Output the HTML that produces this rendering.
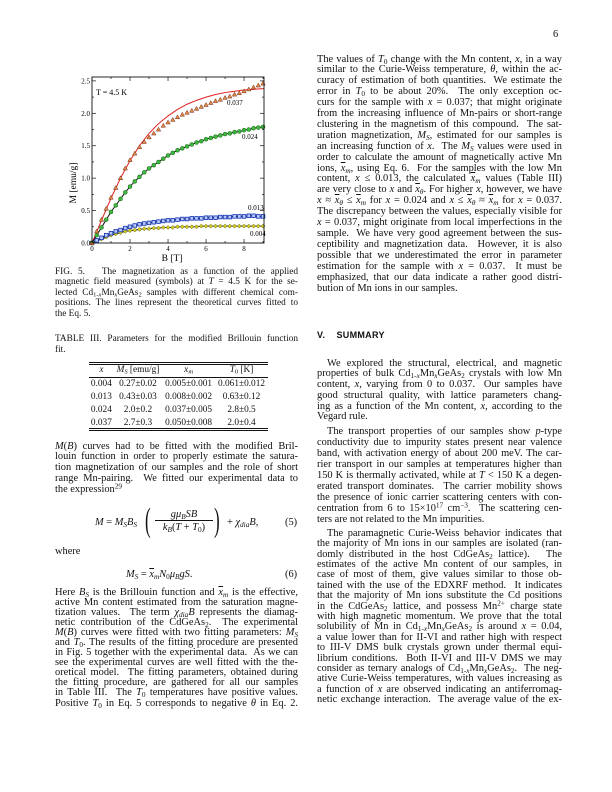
<!DOCTYPE html>
<html><head><meta charset="utf-8">
<style>
body{margin:0;background:#fff;}
#page{position:relative;width:612px;height:792px;overflow:hidden;background:#fff;font-family:"Liberation Serif",serif;color:#111;}
.p{position:absolute;font-size:10.4px;}
.p span{display:block;text-align:justify;text-align-last:justify;white-space:nowrap;}
.p span.l{text-align-last:left;}
.p span.i{text-indent:10px;}
.cap{font-size:9.3px;}
sub,sup{font-size:70%;line-height:0;}
sub{vertical-align:-0.25em;}sup{vertical-align:0.45em;}
i{font-style:italic;}
.ov{text-decoration:overline;}
table{border-collapse:collapse;}
</style></head>
<body><div id="page">

<div class="p" style="left:553px;top:29px;">6</div>

<svg id="chart" style="position:absolute;left:0;top:0" width="310" height="270"></svg>

<div class="p cap" style="left:55px;top:266.8px;width:243px;line-height:10.5px">
<span>FIG. 5.&nbsp;&nbsp; The magnetization as a function of the applied</span>
<span>magnetic field measured (symbols) at <i>T</i> = 4.5 K for the se-</span>
<span>lected Cd<sub>1-<i>x</i></sub>Mn<sub><i>x</i></sub>GeAs<sub>2</sub> samples with different chemical com-</span>
<span>positions. The lines represent the theoretical curves fitted to</span>
<span class="l">the Eq. 5.</span>
</div>

<div class="p cap" style="left:55px;top:333.5px;width:243px;line-height:11px">
<span>TABLE III. Parameters for the modified Brillouin function</span>
<span class="l">fit.</span>
</div>

<div style="position:absolute;left:89px;top:362px;width:179px;border-top:1px solid #111;border-bottom:1px solid #111;height:1px"></div>
<table style="position:absolute;left:89px;top:364px;width:179px;font-size:9.3px;line-height:10.9px;text-align:center">
<tr style="border-bottom:0.8px solid #111"><td><i>x</i></td><td><i>M<sub>S</sub></i> [emu/g]</td><td><i class="ov">x</i><sub><i>m</i></sub></td><td><i>T</i><sub>0</sub> [K]</td></tr>
<tr><td>0.004</td><td>0.27±0.02</td><td>0.005±0.001</td><td>0.061±0.012</td></tr>
<tr><td>0.013</td><td>0.43±0.03</td><td>0.008±0.002</td><td>0.63±0.12</td></tr>
<tr><td>0.024</td><td>2.0±0.2</td><td>0.037±0.005</td><td>2.8±0.5</td></tr>
<tr><td>0.037</td><td>2.7±0.3</td><td>0.050±0.008</td><td>2.0±0.4</td></tr>
</table>
<div style="position:absolute;left:89px;top:428px;width:179px;border-top:1px solid #111;border-bottom:1px solid #111;height:1px"></div>

<div class="p" style="left:55px;top:441.6px;width:243px;line-height:10.75px">
<span><i>M</i>(<i>B</i>) curves had to be fitted with the modified Bril-</span>
<span>louin function in order to properly estimate the satura-</span>
<span>tion magnetization of our samples and the role of short</span>
<span>range Mn-pairing.&nbsp; We fitted our experimental data to</span>
<span class="l">the expression<sup>29</sup></span>
</div>

<div class="p" style="left:95px;top:506px;width:205px;height:34px">
<div style="position:absolute;left:0;top:11px;white-space:nowrap"><i>M</i> = <i>M<sub>S</sub>B<sub>S</sub></i></div>
<div style="position:absolute;left:50px;top:-2px;font-size:34px;line-height:34px;transform:scaleX(0.5);transform-origin:left">(</div>
<div style="position:absolute;left:60px;top:3px;width:58px;text-align:center;border-bottom:0.8px solid #111;line-height:11px"><i>gμ<sub>B</sub>SB</i></div>
<div style="position:absolute;left:60px;top:16px;width:58px;text-align:center;line-height:11px"><i>k<sub>B</sub></i>(<i>T</i> + <i>T</i><sub>0</sub>)</div>
<div style="position:absolute;left:119px;top:-2px;font-size:34px;line-height:34px;transform:scaleX(0.5);transform-origin:left">)</div>
<div style="position:absolute;left:132px;top:11px;white-space:nowrap">+ <i>χ<sub>dia</sub>B</i>,</div>
<div style="position:absolute;left:190px;top:11px">(5)</div>
</div>

<div class="p" style="left:55px;top:546px">where</div>

<div class="p" style="left:126px;top:569px;width:174px">
<div style="position:absolute;left:0;top:0;white-space:nowrap"><i>M<sub>S</sub></i> = <i class="ov">x</i><sub><i>m</i></sub><i>N</i><sub>0</sub><i>μ<sub>B</sub>gS</i>.</div>
<div style="position:absolute;left:159px;top:0">(6)</div>
</div>

<div class="p" style="left:55px;top:587.5px;width:243px;line-height:10.1px">
<span>Here <i>B<sub>S</sub></i> is the Brillouin function and <i class="ov">x</i><sub><i>m</i></sub> is the effective,</span>
<span>active Mn content estimated from the saturation magne-</span>
<span>tization values.&nbsp; The term <i>χ<sub>dia</sub>B</i> represents the diamag-</span>
<span>netic contribution of the CdGeAs<sub>2</sub>.&nbsp; The experimental</span>
<span><i>M</i>(<i>B</i>) curves were fitted with two fitting parameters: <i>M<sub>S</sub></i></span>
<span>and <i>T</i><sub>0</sub>. The results of the fitting procedure are presented</span>
<span>in Fig. 5 together with the experimental data.&nbsp; As we can</span>
<span>see the experimental curves are well fitted with the the-</span>
<span>oretical model.&nbsp; The fitting parameters, obtained during</span>
<span>the fitting procedure, are gathered for all our samples</span>
<span>in Table III.&nbsp; The <i>T</i><sub>0</sub> temperatures have positive values.</span>
<span>Positive <i>T</i><sub>0</sub> in Eq. 5 corresponds to negative <i>θ</i> in Eq. 2.</span>
</div>

<div class="p" style="left:317px;top:54.5px;width:245px;line-height:10.9px">
<span>The values of <i>T</i><sub>0</sub> change with the Mn content, <i>x</i>, in a way</span>
<span>similar to the Curie-Weiss temperature, <i>θ</i>, within the ac-</span>
<span>curacy of estimation of both quantities.&nbsp; We estimate the</span>
<span>error in <i>T</i><sub>0</sub> to be about 20%.&nbsp; The only exception oc-</span>
<span>curs for the sample with <i>x</i> = 0.037; that might originate</span>
<span>from the increasing influence of Mn-pairs or short-range</span>
<span>clustering in the magnetism of this compound.&nbsp; The sat-</span>
<span>uration magnetization, <i>M<sub>S</sub></i>, estimated for our samples is</span>
<span>an increasing function of <i>x</i>.&nbsp; The <i>M<sub>S</sub></i> values were used in</span>
<span>order to calculate the amount of magnetically active Mn</span>
<span>ions, <i class="ov">x</i><sub><i>m</i></sub>, using Eq. 6.&nbsp; For the samples with the low Mn</span>
<span>content, <i>x</i> ≤ 0.013, the calculated <i class="ov">x</i><sub><i>m</i></sub> values (Table III)</span>
<span>are very close to <i>x</i> and <i class="ov">x</i><sub><i>θ</i></sub>. For higher <i>x</i>, however, we have</span>
<span><i>x</i> ≈ <i class="ov">x</i><sub><i>θ</i></sub> ≤ <i class="ov">x</i><sub><i>m</i></sub> for <i>x</i> = 0.024 and <i>x</i> ≤ <i class="ov">x</i><sub><i>θ</i></sub> ≈ <i class="ov">x</i><sub><i>m</i></sub> for <i>x</i> = 0.037.</span>
<span>The discrepancy between the values, especially visible for</span>
<span><i>x</i> = 0.037, might originate from local imperfections in the</span>
<span>sample.&nbsp; We have very good agreement between the sus-</span>
<span>ceptibility and magnetization data.&nbsp; However, it is also</span>
<span>possible that we underestimated the error in parameter</span>
<span>estimation for the sample with <i>x</i> = 0.037.&nbsp; It must be</span>
<span>emphasized, that our data indicate a rather good distri-</span>
<span class="l">bution of Mn ions in our samples.</span>
</div>

<div style="position:absolute;left:317px;top:330px;font-family:'Liberation Sans',sans-serif;font-weight:bold;font-size:9px;letter-spacing:0.3px">V.&nbsp;&nbsp;&nbsp; SUMMARY</div>

<div class="p" style="left:317px;top:358.6px;width:245px;line-height:10.75px">
<span class="i">We explored the structural, electrical, and magnetic</span>
<span>properties of bulk Cd<sub>1-<i>x</i></sub>Mn<sub><i>x</i></sub>GeAs<sub>2</sub> crystals with low Mn</span>
<span>content, <i>x</i>, varying from 0 to 0.037.&nbsp; Our samples have</span>
<span>good structural quality, with lattice parameters chang-</span>
<span>ing as a function of the Mn content, <i>x</i>, according to the</span>
<span class="l">Vegard rule.</span>
</div>

<div class="p" style="left:317px;top:425.5px;width:245px;line-height:11px">
<span class="i">The transport properties of our samples show <i>p</i>-type</span>
<span>conductivity due to impurity states present near valence</span>
<span>band, with activation energy of about 200 meV. The car-</span>
<span>rier transport in our samples at temperatures higher than</span>
<span>150 K is thermally activated, while at <i>T</i> &lt; 150 K a degen-</span>
<span>erated transport dominates.&nbsp; The carrier mobility shows</span>
<span>the presence of ionic carrier scattering centers with con-</span>
<span>centration from 6 to 15×10<sup>17</sup> cm<sup>−3</sup>.&nbsp; The scattering cen-</span>
<span class="l">ters are not related to the Mn impurities.</span>
</div>

<div class="p" style="left:317px;top:528.8px;width:245px;line-height:10.4px">
<span class="i">The paramagnetic Curie-Weiss behavior indicates that</span>
<span>the majority of Mn ions in our samples are isolated (ran-</span>
<span>domly distributed in the host CdGeAs<sub>2</sub> lattice).&nbsp;&nbsp; The</span>
<span>estimates of the active Mn content of our samples, in</span>
<span>case of most of them, give values similar to those ob-</span>
<span>tained with the use of the EDXRF method.&nbsp; It indicates</span>
<span>that the majority of Mn ions substitute the Cd positions</span>
<span>in the CdGeAs<sub>2</sub> lattice, and possess Mn<sup>2+</sup> charge state</span>
<span>with high magnetic momentum. We prove that the total</span>
<span>solubility of Mn in Cd<sub>1-<i>x</i></sub>Mn<sub><i>x</i></sub>GeAs<sub>2</sub> is around <i>x</i> = 0.04,</span>
<span>a value lower than for II-VI and rather high with respect</span>
<span>to III-V DMS bulk crystals grown under thermal equi-</span>
<span>librium conditions.&nbsp; Both II-VI and III-V DMS we may</span>
<span>consider as ternary analogs of Cd<sub>1-<i>x</i></sub>Mn<sub><i>x</i></sub>GeAs<sub>2</sub>.&nbsp; The neg-</span>
<span>ative Curie-Weiss temperatures, with values increasing as</span>
<span>a function of <i>x</i> are observed indicating an antiferromag-</span>
<span>netic exchange interaction.&nbsp; The average value of the ex-</span>
</div>

<script>
// ---- chart data ----
const fieldB = [0,0.25,0.5,0.75,1,1.25,1.5,1.75,2,2.25,2.5,2.75,3,3.25,3.5,3.75,4,4.25,4.5,4.75,5,5.25,5.5,5.75,6,6.25,6.5,6.75,7,7.25,7.5,7.75,8,8.25,8.5,8.75,9];
const m037 = [0,0.18,0.36,0.53,0.70,0.85,1.0,1.15,1.28,1.38,1.48,1.56,1.63,1.69,1.75,1.81,1.86,1.9,1.94,1.98,2.01,2.04,2.07,2.1,2.13,2.16,2.19,2.21,2.24,2.26,2.29,2.31,2.34,2.37,2.4,2.43,2.46];
const m024 = [0,0.12,0.24,0.36,0.48,0.58,0.68,0.78,0.87,0.95,1.02,1.09,1.15,1.2,1.25,1.3,1.35,1.39,1.43,1.46,1.49,1.52,1.55,1.57,1.6,1.62,1.64,1.66,1.68,1.69,1.71,1.72,1.74,1.75,1.77,1.78,1.79];
const m013 = [0,0.04,0.08,0.12,0.15,0.18,0.2,0.23,0.25,0.27,0.29,0.3,0.31,0.32,0.33,0.34,0.35,0.35,0.36,0.37,0.37,0.38,0.38,0.38,0.39,0.39,0.39,0.4,0.4,0.4,0.41,0.41,0.41,0.42,0.42,0.41,0.41];
const m004 = [0,0.03,0.06,0.09,0.12,0.14,0.16,0.18,0.19,0.2,0.21,0.22,0.22,0.23,0.23,0.24,0.24,0.24,0.25,0.25,0.25,0.25,0.25,0.26,0.26,0.26,0.26,0.26,0.26,0.26,0.26,0.26,0.26,0.26,0.26,0.26,0.26];
const fitB037 = [0,0.5,1,1.5,2,2.5,3,3.5,4,4.5,5,5.5,6,6.5,7,7.5,8,8.5,9,9.5];
const fit037 = [0,0.35,0.69,1.0,1.27,1.5,1.69,1.84,1.96,2.06,2.14,2.2,2.25,2.29,2.32,2.34,2.36,2.37,2.38,2.39];
const seriesLabels = ["0.037","0.024","0.013","0.004"];
const xTicks = [0,2,4,6,8];
const yTicks = [0,0.5,1.0,1.5,2.0,2.5];
const tempLabel = "T = 4.5 K";

const NS="http://www.w3.org/2000/svg";
const svg=document.getElementById('chart');
const X0=92,X1=264,Y0=243,Y1=77,XMAX=9.05,YMAX=2.56;
function sx(b){return X0+b/XMAX*(X1-X0);}
function sy(m){return Y0-m/YMAX*(Y0-Y1);}
function mk(tag,attrs){const e=document.createElementNS(NS,tag);for(const k in attrs)e.setAttribute(k,attrs[k]);svg.appendChild(e);return e;}

const defs=mk('defs',{});
const cp=document.createElementNS(NS,'clipPath');cp.setAttribute('id','clip');
const cr=document.createElementNS(NS,'rect');cr.setAttribute('x',X0);cr.setAttribute('y',Y1);cr.setAttribute('width',X1-X0);cr.setAttribute('height',Y0-Y1);
cp.appendChild(cr);defs.appendChild(cp);

for(let v=0;v<=9;v+=1){
  const len=(v%2===0)?4:2;
  let t=mk('line',{x1:sx(v),x2:sx(v),y1:Y0,y2:Y0-len,stroke:'#111','stroke-width':0.7});
  
  t=mk('line',{x1:sx(v),x2:sx(v),y1:Y1,y2:Y1+len,stroke:'#111','stroke-width':0.7});
  
}
for(let k=0;k<=10;k++){
  const v=k*0.25,len=(k%2===0)?4:2;
  let t=mk('line',{x1:X0,x2:X0+len,y1:sy(v),y2:sy(v),stroke:'#111','stroke-width':0.7});
  
  t=mk('line',{x1:X1,x2:X1-len,y1:sy(v),y2:sy(v),stroke:'#111','stroke-width':0.7});
  
}
xTicks.forEach(v=>{
  const t=mk('text',{x:sx(v),y:Y0+8,'font-size':7,'text-anchor':'middle','font-family':'Liberation Serif, serif'});
  t.textContent=String(v);
  
});
yTicks.forEach(v=>{
  const t=mk('text',{x:X0-2,y:sy(v)+2.5,'font-size':7,'text-anchor':'end','font-family':'Liberation Serif, serif'});
  t.textContent=v.toFixed(1);
  
});
let xt=mk('text',{x:172,y:261,'font-size':9.5,'text-anchor':'middle','font-family':'Liberation Serif, serif'});xt.textContent='B [T]';

let yt=mk('text',{x:0,y:0,'font-size':9.5,'text-anchor':'middle','font-family':'Liberation Serif, serif',transform:'translate(76,183) rotate(-90)'});yt.textContent='M [emu/g]';

let tl=mk('text',{x:96,y:95,'font-size':8,'font-family':'Liberation Serif, serif'});tl.textContent=tempLabel;


function line(xs,ys,color,name){
  const pts=xs.map((b,i)=>sx(b).toFixed(2)+','+sy(ys[i]).toFixed(2)).join(' ');
  const p=mk('polyline',{points:pts,fill:'none',stroke:color,'stroke-width':1,'clip-path':'url(#clip)'});
  
}
line(fitB037,fit037,'#e02020','fit-line-0037');
line(fieldB,m024,'#111','fit-line-0024');
line(fieldB,m013,'#111','fit-line-0013');
line(fieldB,m004,'#111','fit-line-0004');

fieldB.forEach((b,i)=>{
  const x=sx(b);
  let y=sy(m004[i]);
  let e=mk('polygon',{points:`${x},${y-2} ${x+2},${y} ${x},${y+2} ${x-2},${y}`,fill:'#d8d020',stroke:'#555500','stroke-width':0.5});
  
  y=sy(m013[i]);
  e=mk('rect',{x:x-1.8,y:y-1.8,width:3.6,height:3.6,fill:'#b8c8ff',stroke:'#1030b0','stroke-width':0.8});
  
  y=sy(m024[i]);
  e=mk('circle',{cx:x,cy:y,r:2,fill:'#40b840',stroke:'#106010','stroke-width':0.5});
  
  y=sy(m037[i]);
  e=mk('polygon',{points:`${x},${y-2.3} ${x+2.2},${y+1.6} ${x-2.2},${y+1.6}`,fill:'#d8904a',stroke:'#802010','stroke-width':0.5});
  
});

const labelPos=[[227,105],[242,139],[248,210],[250,236]];
seriesLabels.forEach((s,i)=>{
  const t=mk('text',{x:labelPos[i][0],y:labelPos[i][1],'font-size':7,'font-family':'Liberation Serif, serif'});
  t.textContent=s;
  
});
const fr=mk('rect',{x:X0,y:Y1,width:X1-X0,height:Y0-Y1,fill:'none',stroke:'#111','stroke-width':0.9});

</script>
</div></body></html>
